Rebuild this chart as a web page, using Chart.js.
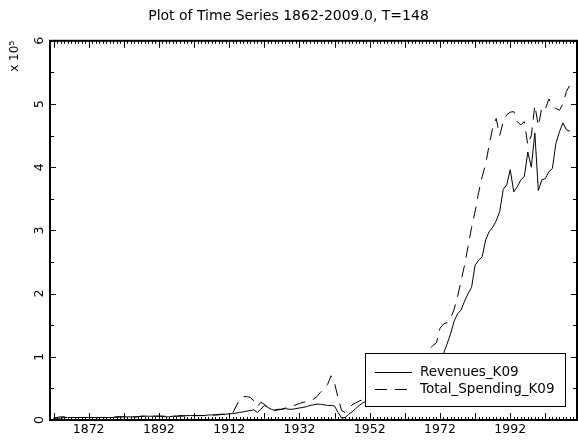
<!DOCTYPE html>
<html>
<head>
<meta charset="utf-8">
<script src="https://cdn.jsdelivr.net/npm/chart.js@4.4.0/dist/chart.umd.min.js"></script>
<style>
  html, body { margin: 0; padding: 0; background: #fff; }
</style>
</head>
<body>
<canvas id="ts" width="578" height="445"></canvas>
<script>
const firstYear = 1862;
const years = Array.from({ length: 148 }, (_, i) => firstYear + i);
const labelYears = [1872, 1892, 1912, 1932, 1952, 1972, 1992];
const yTicks = [0, 1, 2, 3, 4, 5, 6];

// values, in units of 10^5
const revenues = [
  0.02, 0.03, 0.03, 0.04, 0.04, 0.04, 0.04, 0.04, 0.04, 0.04,
  0.04, 0.04, 0.04, 0.04, 0.04, 0.04, 0.04, 0.04, 0.05, 0.05,
  0.05, 0.05, 0.05, 0.05, 0.05, 0.06, 0.06, 0.06, 0.06, 0.06,
  0.06, 0.06, 0.05, 0.05, 0.06, 0.06, 0.06, 0.06, 0.07, 0.07,
  0.07, 0.07, 0.07, 0.07, 0.08, 0.08, 0.08, 0.08, 0.09, 0.09,
  0.10, 0.10, 0.11, 0.12, 0.13, 0.14, 0.15, 0.16, 0.12, 0.17,
  0.23, 0.20, 0.17, 0.15, 0.16, 0.17, 0.18, 0.17, 0.17, 0.18,
  0.19, 0.20, 0.21, 0.23, 0.24, 0.25, 0.25, 0.24, 0.23, 0.23,
  0.22, 0.12, 0.03, 0.04, 0.09, 0.13, 0.18, 0.23, 0.27, 0.30,
  0.33, 0.36, 0.38, 0.40, 0.43, 0.46, 0.48, 0.50, 0.53, 0.56,
  0.60, 0.63, 0.66, 0.70, 0.74, 0.78, 0.82, 0.87, 0.90, 0.94,
  0.98, 1.05, 1.20, 1.36, 1.56, 1.68, 1.74, 1.88, 2.00, 2.10,
  2.45, 2.53, 2.58, 2.85, 2.98, 3.05, 3.15, 3.30, 3.65, 3.72,
  3.96, 3.61, 3.69, 3.80, 3.85, 4.24, 4.00, 4.54, 3.63, 3.80,
  3.82, 3.93, 3.98, 4.38, 4.56, 4.70, 4.59, 4.57
];
const spending = [
  0.03, 0.04, 0.05, 0.05, 0.04, 0.04, 0.04, 0.04, 0.04, 0.04,
  0.04, 0.04, 0.04, 0.04, 0.04, 0.04, 0.04, 0.04, 0.05, 0.05,
  0.05, 0.05, 0.05, 0.05, 0.05, 0.06, 0.06, 0.06, 0.06, 0.06,
  0.06, 0.06, 0.06, 0.06, 0.06, 0.06, 0.07, 0.07, 0.07, 0.07,
  0.07, 0.07, 0.07, 0.07, 0.08, 0.08, 0.08, 0.09, 0.09, 0.09,
  0.10, 0.11, 0.22, 0.33, 0.37, 0.37, 0.36, 0.30, 0.21, 0.28,
  0.25, 0.20, 0.18, 0.16, 0.17, 0.17, 0.19, 0.20, 0.22, 0.24,
  0.26, 0.28, 0.29, 0.30, 0.33, 0.37, 0.44, 0.50, 0.56, 0.70,
  0.58, 0.35, 0.15, 0.12, 0.18, 0.24, 0.27, 0.30, 0.32, 0.35,
  0.38, 0.42, 0.45, 0.48, 0.50, 0.54, 0.57, 0.62, 0.66, 0.70,
  0.75, 0.80, 0.85, 0.90, 0.95, 1.00, 1.08, 1.12, 1.18, 1.22,
  1.45, 1.52, 1.54, 1.60, 1.75, 1.95, 2.20, 2.45, 2.75, 3.05,
  3.30, 3.60, 3.85, 4.05, 4.35, 4.62, 4.77, 4.50, 4.72, 4.83,
  4.87, 4.88, 4.72, 4.67, 4.72, 4.35, 4.50, 4.98, 4.65, 4.95,
  4.92, 5.08, 4.98, 4.93, 4.90, 5.00, 5.20, 5.30
];

Chart.defaults.color = '#000';
Chart.defaults.font.family = '"DejaVu Sans", sans-serif';

// IDL style box with inward ticks on all four sides
const idlFrame = {
  id: 'idlFrame',
  afterDraw(chart) {
    const { ctx, chartArea: a, scales: { x, y } } = chart;
    ctx.save();
    ctx.strokeStyle = '#000';
    ctx.lineWidth = 1;
    ctx.beginPath();
    for (let yr = Math.ceil(x.min); yr <= x.max; yr++) {
      const px = Math.round(x.getPixelForValue(yr)) + 0.5;
      const len = (yr - 1862) % 10 === 0 ? 7 : 3;
      ctx.moveTo(px, a.bottom); ctx.lineTo(px, a.bottom - len);
      ctx.moveTo(px, a.top); ctx.lineTo(px, a.top + len);
    }
    for (let v = 0; v <= 6; v += 0.5) {
      const py = Math.round(y.getPixelForValue(v)) + 0.5;
      const len = v % 1 === 0 ? 6 : 4;
      ctx.moveTo(a.left, py); ctx.lineTo(a.left + len, py);
      ctx.moveTo(a.right, py); ctx.lineTo(a.right - len, py);
    }
    ctx.stroke();
    ctx.lineWidth = 2;
    ctx.strokeRect(a.left, a.top, a.right - a.left, a.bottom - a.top);
    ctx.restore();
  }
};

const boxLegend = {
  id: 'boxLegend',
  afterDatasetsDraw(chart) {
    const ctx = chart.ctx;
    const x0 = 365, y0 = 353, w = 200, h = 53;
    ctx.save();
    ctx.fillStyle = '#fff';
    ctx.fillRect(x0, y0, w, h);
    ctx.strokeStyle = '#000';
    ctx.lineWidth = 1;
    ctx.strokeRect(x0 + 0.5, y0 + 0.5, w, h);
    ctx.font = '13.5px "DejaVu Sans"';
    ctx.textBaseline = 'middle';
    chart.data.datasets.forEach((ds, i) => {
      const ly = y0 + 19 + i * 17;
      ctx.setLineDash(ds.borderDash || []);
      ctx.beginPath();
      ctx.moveTo(x0 + 10, ly + 0.5);
      ctx.lineTo(x0 + 47, ly + 0.5);
      ctx.stroke();
      ctx.setLineDash([]);
      ctx.fillStyle = '#000';
      ctx.fillText(ds.label, x0 + 55, ly);
    });
    ctx.restore();
  }
};

new Chart(document.getElementById('ts'), {
  type: 'line',
  data: {
    datasets: [{
      label: 'Revenues_K09',
      data: years.map((yr, i) => ({ x: yr, y: revenues[i] })),
      borderColor: '#000',
      borderWidth: 1,
      pointRadius: 0,
      tension: 0
    }, {
      label: 'Total_Spending_K09',
      data: years.map((yr, i) => ({ x: yr, y: spending[i] })),
      borderColor: '#000',
      borderWidth: 1,
      borderDash: [12, 8],
      pointRadius: 0,
      tension: 0
    }]
  },
  options: {
    responsive: false,
    animation: false,
    layout: { padding: { right: 1 } },
    plugins: {
      legend: { display: false },
      tooltip: { enabled: false },
      title: {
        display: true,
        text: 'Plot of Time Series 1862-2009.0, T=148',
        font: { size: 14, weight: 'normal' },
        padding: { top: 8, bottom: 16 }
      }
    },
    scales: {
      x: {
        type: 'linear',
        min: 1861,
        max: 2011,
        afterBuildTicks: s => { s.ticks = labelYears.map(v => ({ value: v })); },
        afterFit: s => { s.height = 25; },
        grid: { display: false, drawTicks: false },
        border: { display: false },
        ticks: {
          autoSkip: false,
          maxRotation: 0,
          padding: 2,
          font: { size: 12.5 },
          callback: v => String(v)
        }
      },
      y: {
        min: 0,
        max: 6,
        afterBuildTicks: s => { s.ticks = yTicks.map(v => ({ value: v })); },
        afterFit: s => { s.width = 50; },
        grid: { display: false, drawTicks: false },
        border: { display: false },
        title: {
          display: true,
          text: 'x 10\u2075',
          align: 'end',
          font: { size: 12 },
          padding: { top: 8 }
        },
        ticks: {
          autoSkip: false,
          minRotation: 90,
          maxRotation: 90,
          crossAlign: 'center',
          padding: 6,
          font: { size: 12.5 }
        }
      }
    }
  },
  plugins: [boxLegend, idlFrame]
});
</script>
</body>
</html>
